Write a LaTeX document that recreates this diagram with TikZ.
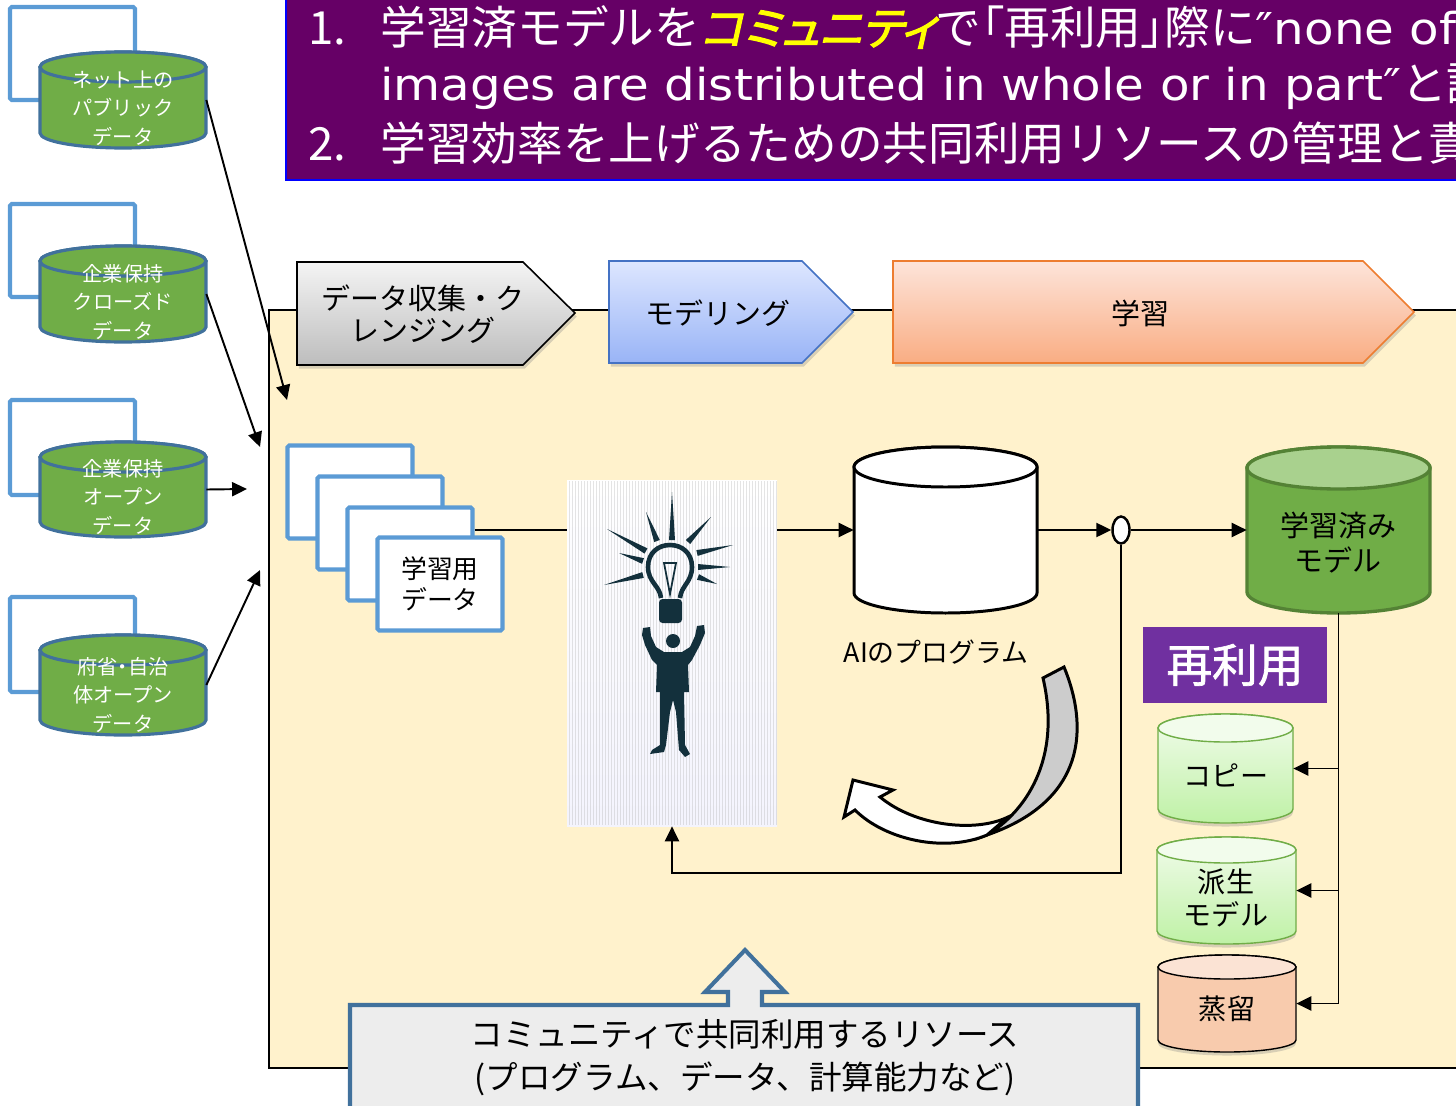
\documentclass[tikz,border=0pt]{standalone}
\usepackage{fontspec}
\setmainfont{Noto Sans CJK JP}
\newfontfamily\emphjp[FakeSlant=0.22,FakeBold=2.5,RawFeature=+palt]{Noto Sans CJK JP}
\newfontfamily\paltjp[RawFeature=+palt]{Noto Sans CJK JP}
\newfontfamily\boldjp[FakeBold=1.5]{Noto Sans CJK JP}
\newfontfamily\widelatin[FakeStretch=1.1]{DejaVu Sans}
\usetikzlibrary{calc,positioning,arrows.meta,shadows,shapes.geometric}

\definecolor{titlebg}{HTML}{660066}
\definecolor{titleedge}{HTML}{0000FF}
\definecolor{titleyellow}{HTML}{FFFF00}
\definecolor{panelbg}{HTML}{FFF2CC}
\definecolor{srcgreen}{HTML}{70AD47}
\definecolor{srcedge}{HTML}{41719C}
\definecolor{cardblue}{HTML}{5B9BD5}
\definecolor{modeledge}{HTML}{548235}
\definecolor{modeltop}{HTML}{A9D18E}
\definecolor{reusebg}{HTML}{7030A0}
\definecolor{ink}{HTML}{13303C}
\definecolor{graytop}{HTML}{F4F4F4}
\definecolor{graybot}{HTML}{BDBDBD}
\definecolor{bluetop}{HTML}{DDE6FF}
\definecolor{bluebot}{HTML}{99B4F6}
\definecolor{blueedge}{HTML}{4472C4}
\definecolor{orangetop}{HTML}{FDE4DA}
\definecolor{orangebot}{HTML}{F9AD83}
\definecolor{orangeedge}{HTML}{ED7D31}
\definecolor{mintop}{HTML}{F2FCEC}
\definecolor{minbot}{HTML}{BFF1A6}
\definecolor{minedge}{HTML}{70AD47}
\definecolor{peach}{HTML}{F8CBAD}
\definecolor{peachtop}{HTML}{FBE3D4}
\definecolor{sharebg}{HTML}{EDEDED}
\definecolor{shareedge}{HTML}{41719C}

\newcommand{\px}{0.02cm}
% drum: name, body style, lid style, x left, lid y, x right, bottom y, y radius
\newcommand{\drum}[8]{%
  \path[#2] (#4,#5) -- (#4,#7)
    arc[start angle=180,end angle=0,x radius={(#6-#4)/2},y radius=#8]
    -- (#6,#5)
    arc[start angle=0,end angle=-180,x radius={(#6-#4)/2},y radius=#8] -- cycle;
  \path[#3] ({(#4+#6)/2},#5) ellipse[x radius={(#6-#4)/2},y radius=#8];
  \node[inner sep=0pt,minimum width={(#6-#4)*\px},minimum height={(#7-#5+2*#8)*\px}]
    (#1) at ({(#4+#6)/2},{(#5+#7)/2}) {};
}
% tapered ray of the bulb
\newcommand{\ray}[2]{\fill[ink] ($(#1)!1.7pt!90:(#2)$) -- (#2) -- ($(#1)!1.7pt!-90:(#2)$) -- cycle;}

\tikzset{
  arr/.style={-{Triangle[length=8.5pt,width=8pt]},line width=1.1pt},
  link/.style={line width=1.1pt},
  cardframe/.style={draw=cardblue,line width=2.3pt,rounded corners=1pt},
  srcdb/.style={fill=srcgreen,draw=srcedge,line width=1.8pt},
  srclabel/.style={text=white,align=center,font=\fontsize{11.5}{16.3}\selectfont},
  card/.style={draw=cardblue,fill=white,line width=2.3pt,rounded corners=1pt,
    minimum width=125*\px,minimum height=93*\px,inner sep=0pt,align=center,
    font=\fontsize{14.7}{17.5}\selectfont},
  chevron/.style={line width=0.9pt,drop shadow={opacity=0.3,shadow xshift=1pt,shadow yshift=-2pt}},
  chevtext/.style={align=center,font=\fontsize{16.5}{18.2}\selectfont},
  titletext/.style={text=white,inner sep=0pt,anchor=base west,font=\fontsize{26}{32}\selectfont},
  progdb/.style={fill=white,draw=black,line width=1.7pt},
  modeldb/.style={fill=srcgreen,draw=modeledge,line width=1.9pt},
  modellid/.style={fill=modeltop,draw=modeledge,line width=1.9pt},
  greendb/.style={top color=mintop,bottom color=minbot,draw=minedge,line width=0.8pt,
    drop shadow={opacity=0.3,shadow xshift=0pt,shadow yshift=-2pt}},
  greenlid/.style={fill=mintop,draw=minedge,line width=0.8pt},
  peachdb/.style={fill=peach,draw=black,line width=0.8pt,
    drop shadow={opacity=0.3,shadow xshift=0pt,shadow yshift=-2pt}},
  peachlid/.style={fill=peachtop,draw=black,line width=0.8pt},
  dblabel/.style={align=center,font=\fontsize{16}{18.7}\selectfont},
  stripe/.style={draw=gray!60,line width=0.2pt,opacity=0.35},
}

\begin{document}
\begin{tikzpicture}[x=0.02cm,y=-0.02cm]
\useasboundingbox (0,0) rectangle (1456,1105);
\clip (0,0) rectangle (1456,1105);

% heading
\draw[fill=titlebg,draw=titleedge,line width=1.2pt] (286,-10) rectangle (1480,180);
\node[titletext] (num1) at (308,45) {1.};
\node[titletext] (line1) at (380,45) {学習済モデルを{\emphjp\color{titleyellow}コミュニティ}で{\paltjp「}再利用{\paltjp」}際に{\widelatin\fontsize{25}{30}\selectfont″none of}};
\node[titletext] (line2) at (380,100) {{\widelatin\fontsize{25}{30}\selectfont images are distributed in whole or in part″}と記};
\node[titletext] (num2) at (308,160) {2.};
\node[titletext] (line3) at (380,160) {学習効率を上げるための共同利用リソースの管理と責};

% work area
\draw[fill=panelbg,line width=0.6pt] (269,310) rectangle (1480,1068);

% phases
\path[chevron,draw=black,top color=graytop,bottom color=graybot]
  (297,262) -- (523,262) -- (575,313) -- (523,365) -- (297,365) -- cycle;
\node[chevtext] (clean) at (423,314) {データ収集・ク\\レンジング};
\path[chevron,draw=blueedge,top color=bluetop,bottom color=bluebot]
  (609,261) -- (802,261) -- (853,312) -- (802,363) -- (609,363) -- cycle;
\node[chevtext] (modeling) at (718,313) {モデリング};
\path[chevron,draw=orangeedge,top color=orangetop,bottom color=orangebot]
  (893,261) -- (1363,261) -- (1414,312) -- (1363,363) -- (893,363) -- cycle;
\node[chevtext] (learning) at (1140,313) {学習};

% data sources
\draw[cardframe] (10,7) rectangle (135,100);
\drum{net}{srcdb}{srcdb}{40}{67}{206}{133}{15}
\node[srclabel] (netlbl) at (123,108) {ネット上の\\パブリック\\データ};

\draw[cardframe] (10,204) rectangle (135,297);
\drum{closed}{srcdb}{srcdb}{40}{261}{206}{327}{15}
\node[srclabel] (closedlbl) at (123,302) {企業保持\\クローズド\\データ};

\draw[cardframe] (10,400) rectangle (135,495);
\drum{open}{srcdb}{srcdb}{40}{457}{206}{522}{15}
\node[srclabel] (openlbl) at (123,497) {企業保持\\オープン\\データ};

\draw[cardframe] (10,597) rectangle (135,692);
\drum{gov}{srcdb}{srcdb}{40}{650}{206}{720}{15}
\node[srclabel] (govlbl) at (123,695) {府省{\paltjp ・}自治\\体オープン\\データ};

\coordinate (in1) at (287,400);
\coordinate (in2) at (260,447);
\coordinate (in3) at (247,489);
\coordinate (in4) at (260,570);
\draw[arr] (net.east) -- (in1);
\draw[arr] (closed.east) -- (in2);
\draw[arr] (open.east) -- (in3);
\draw[arr] (gov.east) -- (in4);

% training data
\node[card] (card1) at (350,492) {};
\node[card] (card2) at (380,523) {};
\node[card] (card3) at (410,554) {};
\node[card] (card4) at (440,584) {学習用\\データ};

% idea picture
\node[inner sep=0pt,minimum width=210*\px,minimum height=346*\px,
  top color=white,bottom color=gray!25!blue!5] (idea) at (672,653) {};
\foreach \sx in {569,572,...,776}
  \draw[stripe] (\sx,481) -- (\sx,825);
\ray{672,540}{672,492}
\ray{657,541}{646,512}
\ray{688,542}{711,517}
\ray{646,551}{607,529}
\ray{697,553}{733,545}
\ray{643,561}{619,553}
\ray{698,567}{730,567}
\ray{643,575}{604,585}
\ray{698,577}{717,584}
\draw[ink,line width=2.6pt] (661,598) .. controls (660,586) and (648,582) .. (648,567)
  .. controls (648,553) and (658,545) .. (670,545)
  .. controls (682,545) and (692,553) .. (692,567)
  .. controls (692,582) and (681,586) .. (680,598);
\draw[ink,line width=1pt] (664,563) -- (676,563) -- (670,594) -- cycle;
\fill[ink,rounded corners=2pt] (659,599) rectangle (682,623);
\fill[ink] (673,641) circle[radius=7];
\fill[ink] (643,628) -- (650,627) -- (651,636) -- (656,647) -- (664,652) -- (682,652)
  -- (690,647) -- (695,636) -- (697,626) -- (704,625) -- (705,633) -- (700,645)
  -- (692,660) -- (688,665) -- (689,692) -- (684,692) -- (685,745) -- (690,754)
  -- (685,757) -- (679,750) -- (676,712) -- (673,700) -- (670,712) -- (666,745)
  -- (664,752) -- (650,754) -- (652,750) -- (660,745) -- (660,692) -- (656,692)
  -- (657,665) -- (652,660) -- (645,645) -- (642,635) -- cycle;

% program and trained model
\drum{prog}{progdb}{progdb}{854}{467}{1037}{593}{20}
\node[font=\fontsize{15.3}{18}\selectfont] (proglbl) at (936,652) {AIのプログラム};
\node[ellipse,draw,fill=white,line width=1.4pt,inner sep=0pt,
  minimum width=17*\px,minimum height=27*\px] (tap) at (1121,530) {};
\drum{model}{modeldb}{modellid}{1247}{468}{1430}{592}{21}
\node[align=center,font=\fontsize{16.5}{20}\selectfont] (modellbl) at (1338,543) {学習済み\\モデル};

\draw[link] (card3.east |- prog.west) -- (idea.west |- prog.west);
\draw[arr] (idea.east |- prog.west) -- (prog.west);
\draw[arr] (prog.east) -- (tap.west);
\draw[arr] (tap.east) -- (model.west);
\coordinate (back) at (672,873);
\draw[arr] (tap.south) |- (back) -- (idea.south);

% reuse
\node[fill=reusebg,text=white,inner sep=0pt,minimum width=184*\px,minimum height=76*\px,
  font=\boldjp\fontsize{26}{30}\selectfont] (reuse) at (1235,665) {再利用};
\drum{copy}{greendb}{greenlid}{1158}{728}{1293}{809}{14}
\node[dblabel] (copylbl) at (1226,775) {コピー};
\drum{deriv}{greendb}{greenlid}{1157}{850}{1296}{931}{13}
\node[dblabel] (derivlbl) at (1226,898) {派生\\モデル};
\drum{distill}{peachdb}{peachlid}{1158}{967}{1296}{1040}{12}
\node[dblabel] (distilllbl) at (1227,1009) {蒸留};
\draw[arr] (model.south) |- (distill.east);
\draw[arr] (model.south |- copy.east) -- (copy.east);
\draw[arr] (model.south |- deriv.east) -- (deriv.east);

% learning loop
\draw[fill=gray!40,line width=1.7pt] (1043,678) -- (1064,667)
  .. controls (1088,725) and (1088,800) .. (987,835)
  .. controls (1025,812) and (1062,760) .. (1043,678) -- cycle;
\draw[fill=white,line width=1.7pt] (1008,817)
  .. controls (975,833) and (915,826) .. (880,797)
  -- (893,790) -- (853,780) -- (844,817) -- (855,810)
  .. controls (885,840) and (945,853) .. (987,835) -- cycle;

% shared resources
\path[fill=sharebg,draw=shareedge,line width=2.3pt]
  (350,1005) -- (728,1005) -- (728,992) -- (705,992) -- (745,950) -- (785,992)
  -- (762,992) -- (762,1005) -- (1138,1005) -- (1138,1130) -- (350,1130) -- cycle;
\node[align=center,font=\fontsize{18.5}{24.4}\selectfont] (shared) at (745,1058)
  {コミュニティで共同利用するリソース\\(プログラム、データ、計算能力など)};
\end{tikzpicture}
\end{document}
